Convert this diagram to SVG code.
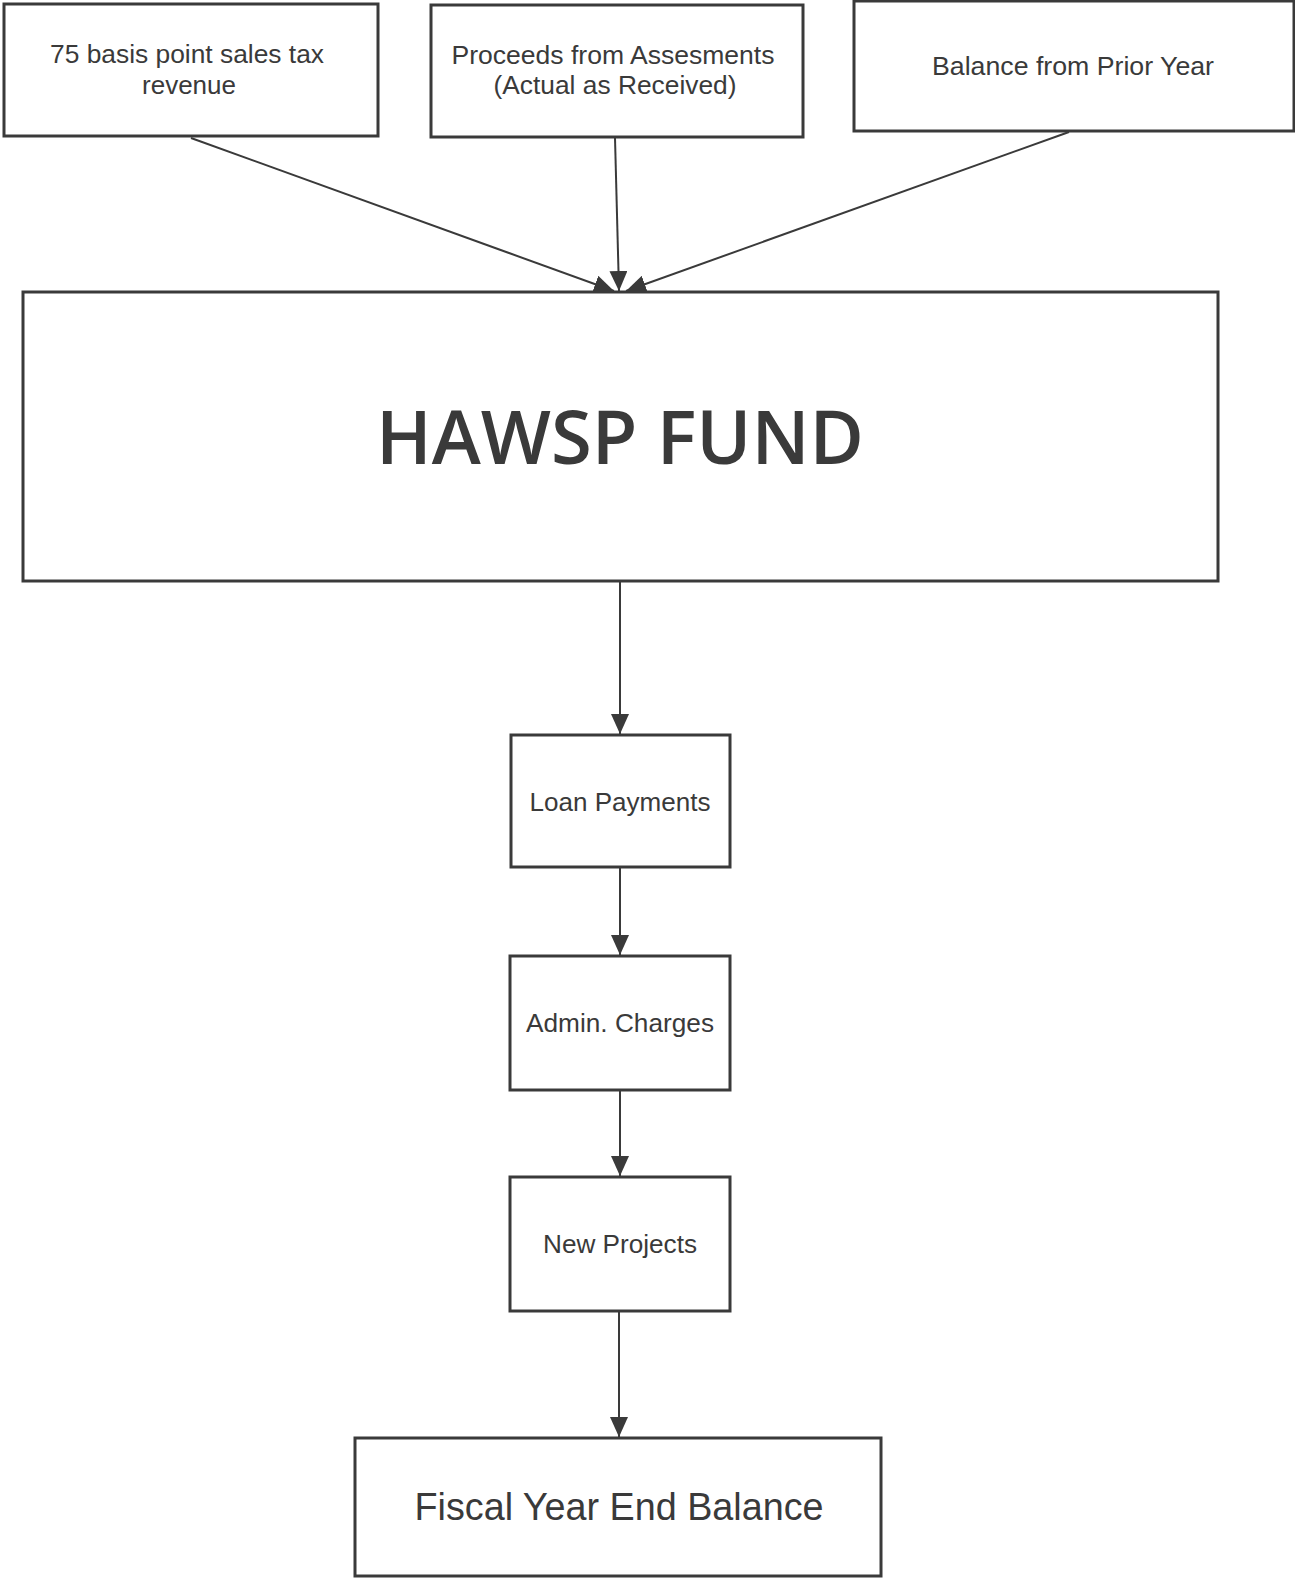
<svg xmlns="http://www.w3.org/2000/svg" width="1295" height="1581" viewBox="0 0 1295 1581">
<style>
.box{fill:#ffffff;stroke:#3a3a3a;stroke-width:3}
.t{font-family:"Liberation Sans",Arial,sans-serif;font-size:26px;fill:#3a3a3a;text-anchor:middle}
.big{font-family:"Open Sans","DejaVu Sans",sans-serif;font-weight:600;font-size:74px;fill:#3a3a3a;text-anchor:middle}
.c{stroke:#3a3a3a;stroke-width:2;fill:none;marker-end:url(#ah)}
</style>
<defs>
<marker id="ah" markerUnits="userSpaceOnUse" markerWidth="20" markerHeight="18" viewBox="0 0 20 18" refX="20" refY="9" orient="auto">
<path d="M0,0 L20,9 L0,18 z" fill="#3a3a3a"/>
</marker>
</defs>
<rect width="1295" height="1581" fill="#ffffff"/>
<g id="connectors">
<line class="c" x1="191" y1="138" x2="614" y2="291"/>
<line class="c" x1="615" y1="138" x2="619" y2="291"/>
<line class="c" x1="1069" y1="132" x2="626" y2="291"/>
<line class="c" x1="620" y1="581" x2="620" y2="734"/>
<line class="c" x1="620" y1="867" x2="620" y2="955"/>
<line class="c" x1="620" y1="1090" x2="620" y2="1176"/>
<line class="c" x1="619" y1="1311" x2="619" y2="1437"/>
</g>
<g id="n-sales-tax">
<rect class="box" x="4" y="4" width="374" height="132"/>
<text class="t" x="187" y="63" textLength="274" lengthAdjust="spacingAndGlyphs">75 basis point sales tax</text>
<text class="t" x="189" y="94" textLength="94" lengthAdjust="spacingAndGlyphs">revenue</text>
</g>
<g id="n-proceeds">
<rect class="box" x="431" y="5" width="372" height="132"/>
<text class="t" x="613" y="64" textLength="323" lengthAdjust="spacingAndGlyphs">Proceeds from Assesments</text>
<text class="t" x="615" y="94" textLength="243" lengthAdjust="spacingAndGlyphs">(Actual as Received)</text>
</g>
<g id="n-balance-prior">
<rect class="box" x="854" y="1" width="440" height="130"/>
<text class="t" x="1073" y="75" textLength="282" lengthAdjust="spacingAndGlyphs">Balance from Prior Year</text>
</g>
<g id="n-hawsp">
<rect class="box" x="23" y="292" width="1195" height="289"/>
<text class="big" x="620" y="464" textLength="488" lengthAdjust="spacingAndGlyphs">HAWSP FUND</text>
</g>
<g id="n-loan">
<rect class="box" x="511" y="735" width="219" height="132"/>
<text class="t" x="620" y="811" textLength="181" lengthAdjust="spacingAndGlyphs">Loan Payments</text>
</g>
<g id="n-admin">
<rect class="box" x="510" y="956" width="220" height="134"/>
<text class="t" x="620" y="1032" textLength="188" lengthAdjust="spacingAndGlyphs">Admin. Charges</text>
</g>
<g id="n-new-projects">
<rect class="box" x="510" y="1177" width="220" height="134"/>
<text class="t" x="620" y="1253" textLength="154" lengthAdjust="spacingAndGlyphs">New Projects</text>
</g>
<g id="n-fiscal">
<rect class="box" x="355" y="1438" width="526" height="138"/>
<text class="t" x="619" y="1520" style="font-size:38px" textLength="409" lengthAdjust="spacingAndGlyphs">Fiscal Year End Balance</text>
</g>
</svg>
